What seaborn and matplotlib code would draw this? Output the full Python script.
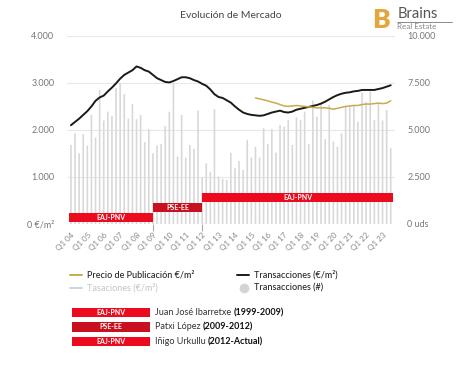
import numpy as np
import pandas as pd
import matplotlib.pyplot as plt
import seaborn as sns
from matplotlib.lines import Line2D
from matplotlib.patches import Rectangle

sns.set_style("white")
plt.rcParams['font.family'] = ['Lato', 'DejaVu Sans']

# data (quarterly, Q1 2004 .. Q3 2023)
tick_labels = ["Q1 04", "Q1 05", "Q1 06", "Q1 07", "Q1 08", "Q1 09", "Q1 10",
               "Q1 11", "Q1 12", "Q1 13", "Q1 14", "Q1 15", "Q1 16", "Q1 17",
               "Q1 18", "Q1 19", "Q1 20", "Q1 21", "Q1 22", "Q1 23"]

transacciones_uds = [4200, 4820, 3760, 4770, 4170, 5800, 4590, 7130, 5500, 5970,
                     5740, 7220, 7480, 6910, 5590, 6370, 5570, 5800, 4360, 5040,
                     3760, 4170, 4260, 5210, 5970, 7480, 3580, 5800, 3530, 4200,
                     3990, 6030, 2480, 3230, 2780, 6100, 2520, 2400, 2350, 3790,
                     2960, 3350, 2870, 4470, 3530, 4110, 3530, 5090, 4260, 5050,
                     3790, 5270, 5180, 5530, 4200, 5670, 5530, 5970, 4260, 6560,
                     5710, 6420, 4500, 6330, 4380, 4110, 4820, 6210, 6280, 6280,
                     5440, 6980, 6500, 7040, 5530, 6380, 5500, 6060, 4030]

transacciones_eur = [2100, 2170, 2240, 2320, 2400, 2500, 2620, 2690, 2730, 2820,
                     2900, 2990, 3090, 3170, 3220, 3270, 3350, 3320, 3270, 3240,
                     3170, 3100, 3060, 3020, 3010, 3040, 3080, 3120, 3120, 3100,
                     3060, 3030, 2980, 2940, 2860, 2760, 2700, 2680, 2630, 2580,
                     2500, 2430, 2370, 2340, 2320, 2310, 2300, 2310, 2340, 2370,
                     2390, 2410, 2380, 2370, 2390, 2430, 2450, 2470, 2490, 2510,
                     2530, 2560, 2600, 2650, 2700, 2740, 2770, 2790, 2800, 2820,
                     2830, 2850, 2850, 2850, 2850, 2870, 2890, 2920, 2950]

# Precio de publicacion starts Q2 2015 (index 45)
precio_start = 45
precio_pub = [2680, 2660, 2640, 2620, 2590, 2570, 2540, 2510, 2500, 2510,
              2520, 2510, 2500, 2490, 2480, 2470, 2470, 2470, 2460, 2440,
              2460, 2480, 2500, 2510, 2520, 2520, 2540, 2550, 2550, 2560,
              2570, 2560, 2570, 2620]

# government periods (quarter index start/end)
party_names = ["EAJ-PNV", "PSE-EE", "EAJ-PNV"]
party_start = [-0.5, 20, 32]
party_end = [20, 32, 78.5]
party_low = [40, 250, 470]
party_high = [230, 440, 660]
party_colors = ["#ec0a1e", "#c8101e", "#ec0a1e"]
leaders = ["Juan José Ibarretxe", "Patxi López", "Iñigo Urkullu"]
leader_years = ["(1999-2009)", "(2009-2012)", "(2012-Actual)"]

n = len(transacciones_uds)
pos = np.arange(n)
df = pd.DataFrame({"pos": pos, "uds": transacciones_uds, "eur": transacciones_eur})
df_precio = pd.DataFrame({"pos": pos[precio_start:precio_start + len(precio_pub)],
                          "precio": precio_pub})

fig = plt.figure(figsize=(4.74, 3.66), dpi=100)
ax = fig.add_axes([0.141, 0.388, 0.692, 0.514])
ax2 = ax.twinx()

# bars: transacciones (#) on right axis
sns.barplot(data=df, x="pos", y="uds", native_scale=True, ax=ax2,
            color="#d8d8d8", width=0.4, errorbar=None, saturation=1,
            linewidth=0)
for p in ax2.patches:
    p.set_snap(False)
ax2.set_ylim(0, 10000)
ax2.set_yticks([0, 2500, 5000, 7500, 10000])
ax2.set_yticklabels(["0 uds", "2.500", "5.000", "7.500", "10.000"])
ax2.yaxis.grid(True, color="#e8e8e8", lw=0.8)
ax2.set_axisbelow(True)
ax2.set_ylabel("")
ax2.set_xlabel("")
ax2.tick_params(axis="y", length=0, pad=9, labelsize=6.5, labelcolor="#777777")

# lines on left axis
ax.set_zorder(ax2.get_zorder() + 1)
ax.patch.set_visible(False)
sns.lineplot(data=df, x="pos", y="eur", ax=ax, color="#1c1a14", lw=1.4)
sns.lineplot(data=df_precio, x="pos", y="precio", ax=ax, color="#c9aa4e", lw=1.1)

# government bands
for name, s, e, lo, hi, c in zip(party_names, party_start, party_end,
                                 party_low, party_high, party_colors):
    ax.add_patch(Rectangle((s, lo), e - s, hi - lo, color=c, lw=0, zorder=3))
    ax.text((s + e) / 2, (lo + hi) / 2, name, ha="center", va="center",
            color="white", fontsize=5, fontweight="bold", zorder=4)

ax.set_xlim(-1, 79)
ax.set_ylim(0, 4000)
ax.set_yticks([0, 1000, 2000, 3000, 4000])
ax.set_yticklabels(["0 €/m²", "1.000", "2.000", "3.000", "4.000"])
ax.tick_params(axis="y", length=0, pad=9, labelsize=6.5, labelcolor="#777777")
ax.set_xticks(np.arange(0, n, 4))
ax.set_xticklabels(tick_labels, rotation=45, ha="right", rotation_mode="anchor")
ax.set_xticks(pos, minor=True)
ax.tick_params(axis="x", which="major", length=0, pad=5, labelsize=5.8,
               labelcolor="#888888")
ax.tick_params(axis="x", which="minor", length=2.5, color="#c8c8c8", width=0.6)
ax.vlines([20, 32], -0.035, 0, transform=ax.get_xaxis_transform(),
          color="#aaaaaa", lw=0.8, clip_on=False)
ax.set_xlabel("")
ax.set_ylabel("")
for a in (ax, ax2):
    for sp in a.spines.values():
        sp.set_visible(False)

# title and logo
fig.text(0.487, 0.958, "Evolución de Mercado", ha="center", va="center",
         fontsize=7.5, color="#444444")
fig.text(0.785, 0.945, "B", ha="left", va="center", fontsize=19,
         fontweight="heavy", color="#e2a63c")
fig.text(0.838, 0.963, "Brains", ha="left", va="center", fontsize=10.5,
         color="#555555")
fig.add_artist(Line2D([0.838, 0.953], [0.941, 0.941], color="#777777", lw=0.6))
fig.text(0.838, 0.927, "Real Estate", ha="left", va="center", fontsize=5.8,
         color="#888888")

# series legend
leg = [("Precio de Publicación €/m²", "#c9aa4e", "line", 0.148, 0.249, "#222222"),
       ("Transacciones (€/m²)", "#1c1a14", "line", 0.500, 0.249, "#222222"),
       ("Tasaciones (€/m²)", "#c9d6de", "line", 0.148, 0.213, "#c8c8c8"),
       ("Transacciones (#)", "#d4d4d4", "dot", 0.500, 0.213, "#222222")]
for label, c, kind, x0, y0, tc in leg:
    if kind == "line":
        fig.add_artist(Line2D([x0, x0 + 0.026], [y0, y0], color=c, lw=1.4))
    else:
        fig.add_artist(Line2D([x0 + 0.015], [y0], marker="o", ms=6, color=c, lw=0))
    fig.text(x0 + 0.036, y0, label, ha="left", va="center", fontsize=6.5,
             color=tc, fontweight="medium")

# party legend
fig.canvas.draw()
renderer = fig.canvas.get_renderer()
for i, (name, c, who, yrs) in enumerate(zip(party_names, party_colors, leaders, leader_years)):
    yc = [0.146, 0.107, 0.067][i]
    fig.add_artist(Rectangle((0.152, yc - 0.013), 0.164, 0.026, color=c, lw=0,
                             transform=fig.transFigure))
    fig.text(0.234, yc, name, ha="center", va="center", color="white",
             fontsize=5, fontweight="bold")
    t = fig.text(0.327, yc, who + " ", ha="left", va="center", fontsize=6.5,
                 color="#333333")
    bb = t.get_window_extent(renderer).transformed(fig.transFigure.inverted())
    fig.text(bb.x1, yc, yrs, ha="left", va="center", fontsize=6.5,
             color="#111111", fontweight="bold")

fig.savefig("out.png", dpi=100)
